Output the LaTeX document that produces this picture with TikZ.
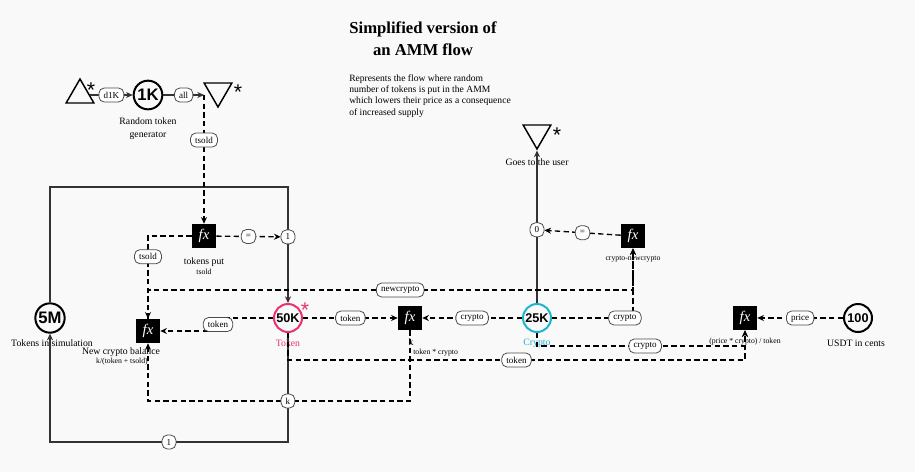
\documentclass[tikz,border=0pt]{standalone}
\usepackage{fontspec}
\setmainfont{Liberation Serif}
\newfontfamily\numfont{Liberation Sans}
\usepackage{xcolor}
\usepackage{tikz}
\usetikzlibrary{arrows.meta}
\usetikzlibrary{shapes.geometric}
\definecolor{bgcol}{RGB}{249,249,249}
\definecolor{tokpink}{HTML}{E6336E}
\definecolor{cryptocyan}{HTML}{1CB5D0}
\definecolor{linegray}{HTML}{333333}

\begin{document}
\begin{tikzpicture}[x=0.75pt,y=-0.75pt]
  \tikzset{Pool/.style={circle, draw, line width=1.5pt, minimum size=21pt, inner sep=0pt, font=\numfont\bfseries\fontsize{9.5}{9.5}\selectfont}};
  \tikzset{PoolBig/.style={Pool, minimum size=21.5pt, font=\numfont\bfseries\fontsize{12.5}{12.5}\selectfont}};
  \tikzset{Source/.style={regular polygon, regular polygon sides=3, draw, line width=1.1pt, minimum size=24pt, inner sep=0pt}};
  \tikzset{Drain/.style={Source, shape border rotate=180}};
  \tikzset{Formula/.style={rectangle, fill=black, text=white, minimum size=18pt, inner sep=0pt, font=\fontsize{11}{11}\selectfont\itshape}};
  \tikzset{Label/.style={rectangle, solid, rounded corners=4pt, draw=black!70, fill=white, line width=0.6pt, inner xsep=3.5pt, inner ysep=0pt, minimum height=10.5pt, text=black, font=\fontsize{6.8}{6.8}\selectfont}};
  \tikzset{Caption/.style={align=center, inner sep=0pt, font=\fontsize{7.3}{9.75}\selectfont}};
  \tikzset{Small/.style={align=center, inner sep=0pt, font=\fontsize{5.8}{6.5}\selectfont}};
  \tikzset{Star/.style={inner sep=0pt, font=\numfont\fontsize{16}{16}\selectfont}};
  \tikzset{Flow/.style={draw=linegray, line width=1pt, -{Stealth[length=5pt,width=4.5pt]}}};
  \tikzset{State/.style={draw=black, line width=1pt, dash pattern=on 4pt off 2.5pt, -{Stealth[length=5pt,width=4.5pt]}}};
  \fill[bgcol] (0,0) rectangle (915,472);
  \useasboundingbox (0,0) rectangle (915,472);
  \node[align=center, font=\fontsize{12.5}{16.5}\selectfont\bfseries] (title) at (423,39) {Simplified version of\\an AMM flow};
  \node[anchor=north west, align=left, inner sep=0pt, font=\fontsize{7.2}{8.6}\selectfont] (desc) at (349,74) {Represents the flow where random\\number of tokens is put in the AMM\\which lowers their price as a consequence\\of increased supply};
  \node[Source] (src) at (80,95) {};
  \node[Star] (srcstar) at (91,90) {*};
  \node[PoolBig] (gen) at (148,95) {1K};
  \node[Caption] (gencap) at (148,128.5) {Random token\\generator};
  \node[Drain] (snk) at (218,91) {};
  \node[Star] (snkstar) at (238,92) {*};
  \coordinate (snkin) at (204,95);
  \node[Formula] (fxput) at (204,236) {fx};
  \node[Caption] (putcap) at (204,262) {tokens put};
  \node[Small] (putf) at (204,272) {tsold};
  \node[PoolBig, minimum size=22pt] (pool) at (50,318) {5M};
  \node[Caption] (poolcap) at (52,343) {Tokens in simulation};
  \node[Formula] (fxnew) at (148,331) {fx};
  \node[Caption] (newcap) at (121,352) {New crypto balance};
  \node[Small] (newf) at (122,362) {k/(token + tsold)};
  \node[Pool, draw=tokpink] (tok) at (288,318) {50K};
  \node[Star, text=tokpink] (tokstar) at (305,310) {*};
  \node[Caption, text=tokpink] (tokcap) at (288,343) {Token};
  \node[Formula] (fxk) at (410,318) {fx};
  \node[Caption] (kcap) at (411,342) {k};
  \node[Small, anchor=west] (kf) at (413,353) {token * crypto};
  \node[Pool, draw=cryptocyan] (cry) at (537,318) {25K};
  \node[Caption, text=cryptocyan] (crycap) at (537,343) {Crypto};
  \node[Drain] (user) at (537,133) {};
  \node[Star] (userstar) at (557,135) {*};
  \node[Caption] (usercap) at (537,162) {Goes to the user};
  \node[Formula] (fxcn) at (633,236) {fx};
  \node[Small] (cnf) at (633,259) {crypto-newcrypto};
  \node[Formula] (fxprice) at (745,318) {fx};
  \node[Small] (pricef) at (745,342) {(price * crypto) / token};
  \node[Pool] (usdt) at (858,318) {100};
  \node[Caption] (usdtcap) at (856,343) {USDT in cents};
  \draw[Flow] (src) -- node[Label] {d1K} (gen);
  \draw[Flow] (gen) -- node[Label] {all} (snkin);
  \draw[Flow] (pool) |- (288,187) -- node[Label, pos=.43] (one) {1} (tok);
  \draw[Flow] (tok) |- node[Label, pos=.75] {1} (50,442) -- (pool);
  \draw[Flow] (cry) -- node[Label, pos=.48] (zero) {0} (user);
  \draw[State] (snkin) -- node[Label, pos=.35] {tsold} (fxput);
  \draw[State] (fxput) -- node[Label] {=} (one);
  \draw[State] (fxput) -| node[Label, pos=.625] {tsold} (fxnew);
  \draw[State] (fxnew) |- node[Label, pos=.76] {newcrypto} (633,290) -- (fxcn);
  \draw[State] (tok) -- (218,318) -- node[Label] {token} (218,331) -- (fxnew);
  \draw[State] (tok) -- node[Label] {token} (fxk);
  \draw[State] (cry) -- node[Label] {crypto} (fxk);
  \draw[State] (fxk) |- node[Label, pos=.733] {k} (148,401) -- (fxnew);
  \draw[State] (fxcn) -- node[Label] {=} (zero);
  \draw[State] (cry) -| node[Label, pos=.45] {crypto} (fxcn);
  \draw[State] (cry) |- node[Label, pos=.76] {crypto} (745,346) -- (fxprice);
  \draw[State] (tok) |- node[Label, pos=.75] {token} (745,360) -- (fxprice);
  \draw[State] (usdt) -- node[Label] {price} (fxprice);
\end{tikzpicture}
\end{document}
